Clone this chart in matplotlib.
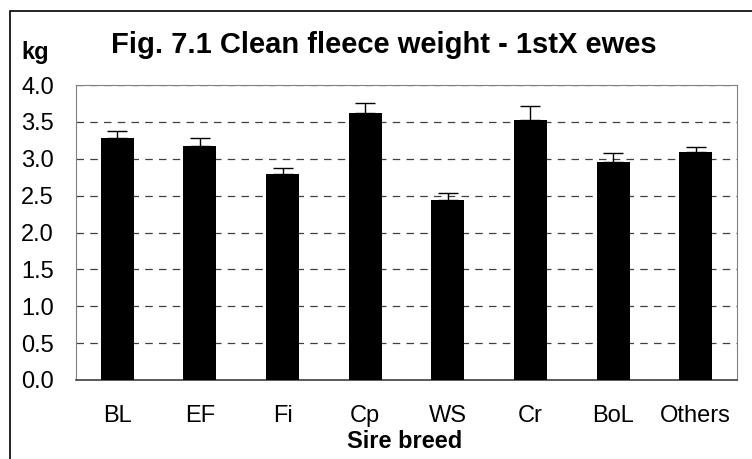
import matplotlib.pyplot as plt
from matplotlib.patches import Rectangle
import numpy as np

plt.rcParams['font.family'] = ['Liberation Sans', 'DejaVu Sans']

breeds = ["BL", "EF", "Fi", "Cp", "WS", "Cr", "BoL", "Others"]
weight = [3.28, 3.17, 2.79, 3.62, 2.44, 3.52, 2.95, 3.09]
err_up = [0.10, 0.11, 0.08, 0.14, 0.10, 0.19, 0.13, 0.07]

fig = plt.figure(figsize=(7.52, 4.59), dpi=100)
ax = fig.add_axes([76 / 752, 1 - 380 / 459, 661 / 752, 295 / 459])

x = np.arange(len(breeds))
ax.bar(x, weight, width=0.4, color='black', zorder=3)
ax.errorbar(x, weight, yerr=[np.zeros(len(err_up)), err_up], fmt='none',
            ecolor='black', elinewidth=1, capsize=7, capthick=1, zorder=4)

ax.set_xlim(-0.5, len(breeds) - 0.5)
ax.set_ylim(0, 4.0)
ax.set_yticks(np.arange(0, 4.01, 0.5))
ax.set_yticklabels([f"{v:.1f}" for v in np.arange(0, 4.01, 0.5)], fontsize=17)
ax.set_xticks(x)
ax.set_xticklabels(breeds, fontsize=17)
ax.tick_params(axis='both', length=0)
ax.tick_params(axis='x', pad=18)
ax.tick_params(axis='y', pad=16)
ax.yaxis.grid(True, linestyle=(0, (6, 5)), color='#404040', linewidth=0.9, zorder=0)

for side in ['top', 'right', 'left']:
    ax.spines[side].set_color('#808080')
ax.spines['bottom'].set_color('#404040')
ax.spines['bottom'].set_linewidth(1.2)

fig.text(0.511, 1 - 45 / 459, "Fig. 7.1 Clean fleece weight - 1stX ewes",
         fontsize=21, fontweight='bold', ha='center', va='center')
fig.text(21 / 752, 1 - 53 / 459, "kg", fontsize=17, fontweight='bold', ha='left', va='center')
fig.text(405 / 752, 1 - 441 / 459, "Sire breed", fontsize=17, fontweight='bold', ha='center', va='center')

fig.patches.append(Rectangle((10 / 752, -0.1), 1.0, 1 - 10.5 / 459 + 0.1,
                             transform=fig.transFigure, fill=False,
                             edgecolor='black', linewidth=1.2))

fig.savefig("out.png", dpi=100)
